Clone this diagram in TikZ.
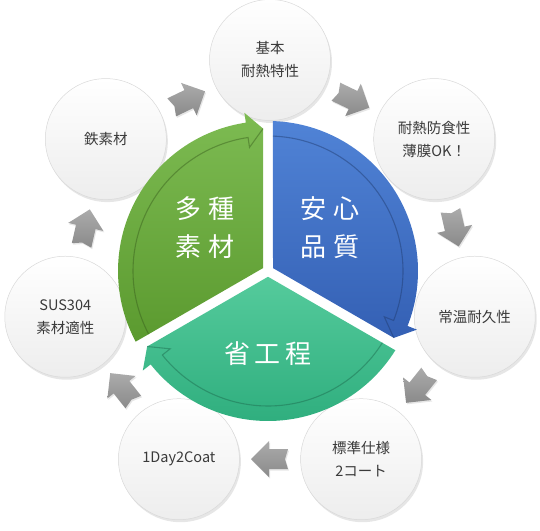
\documentclass[tikz,border=0pt]{standalone}
\usepackage{fontspec}
\setmainfont{Noto Sans CJK JP}
\usetikzlibrary{calc,shadows}
\definecolor{txt}{HTML}{3A3A3A}
\definecolor{gTop}{HTML}{7DBB52}
\definecolor{gBot}{HTML}{5B9A2F}
\definecolor{bTop}{HTML}{5083D6}
\definecolor{bBot}{HTML}{3460B4}
\definecolor{tTop}{HTML}{55CB9C}
\definecolor{tBot}{HTML}{2FAE7E}
\definecolor{arrTop}{HTML}{ABABAB}
\definecolor{arrBot}{HTML}{8A8A8A}
\tikzset{
  circ/.style={circle, minimum size=121pt, inner sep=0pt, align=center,
    draw=gray!30, line width=0.5pt, top color=white, bottom color=gray!14,
    text=txt, font={\fontsize{14.5}{23}\selectfont},
    drop shadow={opacity=0.2, shadow xshift=1.5pt, shadow yshift=-2.5pt}},
  seggreen/.style={top color=gTop, bottom color=gBot},
  segblue/.style={top color=bTop, bottom color=bBot},
  segteal/.style={top color=tTop, bottom color=tBot},
  innerline/.style={line width=1.1pt, opacity=0.45},
  blockarrow/.style={top color=arrTop, bottom color=arrBot, draw=none,
    drop shadow={opacity=0.2, shadow xshift=1pt, shadow yshift=-1.5pt}},
  biglabel/.style={text=white, font={\fontsize{26}{36}\selectfont}, align=center, inner sep=0pt}
}
\begin{document}
\begin{tikzpicture}[x=1pt,y=1pt]
\useasboundingbox (0,0) rectangle (540,530);
\coordinate (O) at (270,260);
\coordinate (C) at (268,259);

% outer circles
\node[circ] (c1) at ($(O)+(90:210)$) {基本\\耐熱特性};
\node[circ] (c2) at ($(O)+(38.57:210)$) {耐熱防食性\\薄膜OK！};
\node[circ] (c3) at ($(O)+(-12.86:210)$) {常温耐久性};
\node[circ] (c4) at ($(O)+(-64.29:210)$) {標準仕様\\2コート};
\node[circ] (c5) at ($(O)+(-115.71:210)$) {1Day2Coat};
\node[circ] (c6) at ($(O)+(-167.14:210)$) {SUS304\\素材適性};
\node[circ] (c7) at ($(O)+(141.43:210)$) {鉄素材};

% gray block arrows between circles
\foreach \i/\j/\a in {1/2/-25.71, 2/3/-77.14, 3/4/-128.57, 4/5/-180, 5/6/-231.43, 6/7/-282.86, 7/1/-334.29}{
  \begin{scope}[shift={($(c\i)!0.5!(c\j)$)}, rotate=\a]
    \path[blockarrow] (-18,10) -- (1,10) -- (1,18) -- (19,0) -- (1,-18) -- (1,-10) -- (-18,-10) -- (-15,0) -- cycle;
  \end{scope}
}

% green segment
\path[seggreen] ($(C)+(150:5.77)$) -- ($(C)+(208.1:150)$)
  arc[start angle=208.1, end angle=98.5, radius=150]
  -- ($(C)+(98.5:160)$) -- ($(C)+(92:142.5)$) -- cycle;
\draw[innerline, draw=gBot!60!black] ($(C)+(207.9:135)$)
  arc[start angle=207.9, end angle=98.5, radius=135]
  -- ($(C)+(98.5:125)$) -- ($(C)+(92:142.5)$);

% blue segment
\path[segblue] ($(C)+(30:5.77)$) -- ($(C)+(88.1:150)$)
  arc[start angle=88.1, end angle=-21.5, radius=150]
  -- ($(C)+(-21.5:160)$) -- ($(C)+(-28:142.5)$) -- cycle;
\draw[innerline, draw=bBot!60!black] ($(C)+(87.9:135)$)
  arc[start angle=87.9, end angle=-21.5, radius=135]
  -- ($(C)+(-21.5:125)$) -- ($(C)+(-28:142.5)$);

% teal segment
\path[segteal] ($(C)+(270:5.77)$) -- ($(C)+(328.1:150)$)
  arc[start angle=328.1, end angle=218.5, radius=150]
  -- ($(C)+(218.5:160)$) -- ($(C)+(212:142.5)$) -- cycle;
\draw[innerline, draw=tBot!60!black] ($(C)+(327.9:135)$)
  arc[start angle=327.9, end angle=218.5, radius=135]
  -- ($(C)+(218.5:125)$) -- ($(C)+(212:142.5)$);

% labels
\node[biglabel] (lg) at (205,302) {多\hspace{8pt}種\\[2pt]素\hspace{8pt}材};
\node[biglabel] (lb) at (330,302) {安\hspace{8pt}心\\[2pt]品\hspace{8pt}質};
\node[biglabel] (lt) at (268,176) {省\hspace{5pt}工\hspace{5pt}程};
\end{tikzpicture}
\end{document}
